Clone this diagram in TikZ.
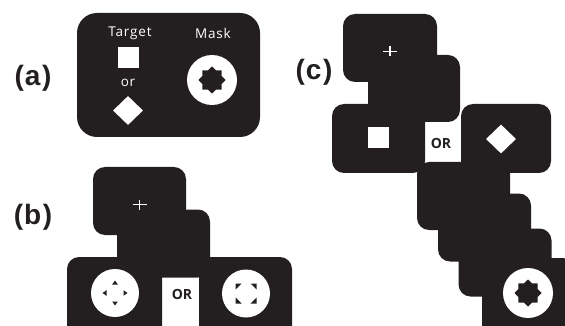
\documentclass[tikz,border=0pt]{standalone}
\usepackage{fontspec}
\setmainfont{Open Sans}
\newfontfamily\labfont{Liberation Sans}
\newfontfamily\txtfont[LetterSpace=6]{Open Sans}
\usetikzlibrary{shapes.geometric}
\definecolor{dark}{RGB}{35,31,32}
\begin{document}
\begin{tikzpicture}[x=1pt,y=-1pt,
  panel/.style={rectangle, rounded corners=12pt, fill=dark, minimum width=93pt, minimum height=68pt, inner sep=0pt},
  lab/.style={font=\labfont\bfseries\fontsize{28}{28}\selectfont, text=dark, inner sep=0pt},
  txt/.style={font=\txtfont\fontsize{13.5}{14}\selectfont, text=white, inner sep=0pt},
  ortxt/.style={font=\bfseries\fontsize{14}{14}\selectfont, text=dark, inner sep=0pt},
  maskcirc/.style={circle, fill=white, minimum size=50pt, inner sep=0pt},
  maskstar/.style={star, star points=8, star point ratio=1.3, fill=dark, minimum size=27pt, inner sep=0pt},
  sq/.style={rectangle, fill=white, minimum size=21pt, inner sep=0pt},
  dia/.style={diamond, fill=white, minimum width=30pt, minimum height=29pt, inner sep=0pt},
  plusline/.style={white, line width=1.2pt},
  tri/.style={fill=dark}
]
\clip (0,0) rectangle (565,326);
\useasboundingbox (0,0) rectangle (565,326);

% ---------- (a) ----------
\node[lab] (la) at (33,78) {(\kern1pt a\kern1.5pt)};
\node[panel, rounded corners=20pt, minimum width=183pt, minimum height=124pt] (apanel) at (168.5,75) {};
\node[txt] (atarget) at (130,33) {Target};
\node[txt] (amasklab) at (213,33) {Mask};
\node[sq] (asq) at (128.5,58) {};
\node[txt] (aor) at (128,83) {or};
\node[dia] (adia) at (128,110.5) {};
\node[maskcirc] (amask) at (212,80) {};
\node[maskstar] (astar) at (amask) {};

% ---------- (b) ----------
\node[lab] (lb) at (33,217) {(\kern1pt b\kern1.5pt)};
\node[panel] (b2) at (163.5,243.5) {};
\node[panel] (b1) at (139.5,201) {};
\node[panel, minimum width=95pt, minimum height=90pt] (b3) at (114.5,302) {};
\node[panel, minimum height=90pt] (b4) at (245.5,302) {};
\coordinate (bfix) at (139.5,204.5);
\draw[plusline] ([xshift=-7pt]bfix) -- ([xshift=7pt]bfix);
\draw[plusline] ([yshift=-5pt]bfix) -- ([yshift=5pt]bfix);
\node[ortxt] (bor) at (182,294) {OR};
\node[maskcirc, minimum size=48pt] (bl) at (115,293) {};
\node[maskcirc, minimum size=48pt] (br) at (246,293.5) {};
% arrowheads in left circle
\fill[tri] ([shift={(0,-12.5)}]bl.center) -- ([shift={(-2.8,-8.5)}]bl.center) -- ([shift={(2.8,-8.5)}]bl.center) -- cycle;
\fill[tri] ([shift={(0,12.5)}]bl.center) -- ([shift={(-2.8,8.5)}]bl.center) -- ([shift={(2.8,8.5)}]bl.center) -- cycle;
\fill[tri] ([shift={(-12.5,0)}]bl.center) -- ([shift={(-8.5,-2.8)}]bl.center) -- ([shift={(-8.5,2.8)}]bl.center) -- cycle;
\fill[tri] ([shift={(12.5,0)}]bl.center) -- ([shift={(8.5,-2.8)}]bl.center) -- ([shift={(8.5,2.8)}]bl.center) -- cycle;
% corner marks in right circle
\fill[tri] ([shift={(-10.5,-10)}]br.center) -- ([shift={(-4.5,-10)}]br.center) -- ([shift={(-10.5,-4)}]br.center) -- cycle;
\fill[tri] ([shift={(10.5,-10)}]br.center) -- ([shift={(4.5,-10)}]br.center) -- ([shift={(10.5,-4)}]br.center) -- cycle;
\fill[tri] ([shift={(-10.5,10)}]br.center) -- ([shift={(-4.5,10)}]br.center) -- ([shift={(-10.5,4)}]br.center) -- cycle;
\fill[tri] ([shift={(10.5,10)}]br.center) -- ([shift={(4.5,10)}]br.center) -- ([shift={(10.5,4)}]br.center) -- cycle;

% ---------- (c) ----------
\node[lab] (lc) at (314,72) {(\kern1pt c\kern1.5pt)};
\node[panel, minimum width=92pt, minimum height=67pt] (c2) at (414,88.5) {};
\node[panel, minimum width=94pt] (c1) at (390,48) {};
\node[panel] (c5) at (463.5,196) {};
\node[panel] (c6) at (484.5,227.5) {};
\node[panel] (c7) at (505,262.5) {};
\node[panel, minimum height=90pt] (c8) at (528.5,303) {};
\node[panel, minimum height=69pt] (c3) at (378.5,138.5) {};
\node[panel, minimum width=90pt, minimum height=69pt] (c4) at (506,138.5) {};
\coordinate (cfix) at (390,51.5);
\draw[plusline] ([xshift=-7pt]cfix) -- ([xshift=7pt]cfix);
\draw[plusline] ([yshift=-5pt]cfix) -- ([yshift=5pt]cfix);
\node[sq] (csq) at (378.5,138) {};
\node[ortxt] (cor) at (441,143) {OR};
\node[dia] (cdia) at (501,139) {};
\node[maskcirc] (cmask) at (528,293) {};
\node[maskstar] (cstar) at (cmask) {};
\end{tikzpicture}
\end{document}
